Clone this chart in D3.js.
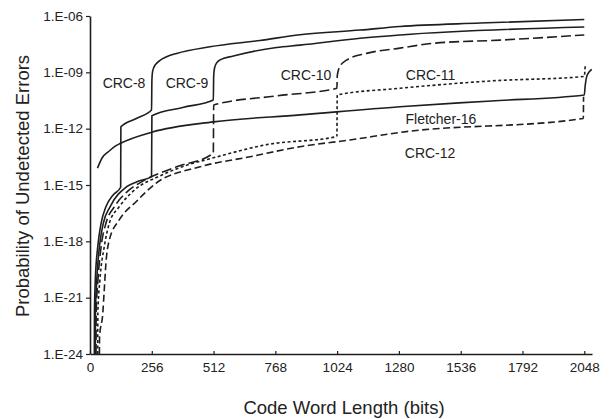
<!DOCTYPE html>
<html>
<head>
<meta charset="utf-8">
<script src="https://cdn.jsdelivr.net/npm/d3@7"></script>
<style>
  html, body { margin: 0; padding: 0; background: #fff; }
  svg { display: block; }
  text { font-family: "Liberation Sans", Arial, sans-serif; fill: #222; }
</style>
</head>
<body>
<div id="chart"></div>
<script>
// ---- Data (code word length in bits, probability of undetected errors) ----
const xTicks = [0, 256, 512, 768, 1024, 1280, 1536, 1792, 2048];
const yTicks = [1e-24, 1e-21, 1e-18, 1e-15, 1e-12, 1e-9, 1e-6];
const yTickLabels = ["1.E-24", "1.E-21", "1.E-18", "1.E-15", "1.E-12", "1.E-09", "1.E-06"];

const crc8Bits = [18, 18.5, 22, 32, 46, 66, 96, 127, 128, 192, 255, 256.5, 259, 265, 278, 290, 315, 359, 497, 704, 870, 1119, 1284, 1616, 2048];
const crc8Pud  = [1e-24, 1.48e-22, 8.7e-21, 5.1e-19, 9.1e-18, 6.9e-17, 2.95e-16, 7.6e-16, 1.26e-12, 3.5e-12, 9.8e-12, 3.9e-10, 1.05e-9, 1.9e-9, 3.2e-9, 4.3e-9, 6.5e-9, 1.02e-8, 2.3e-8, 5.0e-8, 1.0e-7, 1.78e-7, 2.75e-7, 4.2e-7, 6.5e-7];

const crc9Bits = [22, 22.5, 28, 39, 55, 83, 152, 200, 255, 256.5, 384, 511, 512.5, 516, 525, 539, 594, 773, 870, 1119, 1284, 2048];
const crc9Pud  = [1e-24, 1.48e-22, 8.7e-21, 5.1e-19, 9.1e-18, 6.9e-17, 8.1e-16, 1.58e-15, 2.8e-15, 4.9e-12, 1.35e-11, 3.4e-11, 6.3e-10, 1.7e-9, 3.2e-9, 4.6e-9, 7.4e-9, 2.1e-8, 2.8e-8, 6.5e-8, 9.8e-8, 2.6e-7];

const crc10Bits = [25, 25.5, 33, 46, 66, 101, 159, 221, 359, 511, 512.5, 768, 1023, 1024.5, 1030, 1036, 1063, 1146, 1284, 1421, 1699, 2048];
const crc10Pud  = [1e-24, 1.48e-22, 8.7e-21, 5.1e-19, 9.1e-18, 6.9e-17, 5.0e-16, 1.66e-15, 9.3e-15, 4.9e-14, 1.82e-11, 5.5e-11, 1.41e-10, 6.3e-10, 1.41e-9, 2.1e-9, 4.5e-9, 1.02e-8, 1.95e-8, 3.5e-8, 5.2e-8, 9.8e-8];

const crc11Bits = [32, 32.5, 41, 59, 80, 121, 173, 300, 400, 511, 732, 1023, 1024.5, 1284, 1664, 2048, 2052];
const crc11Pud  = [1e-24, 1.48e-22, 8.7e-21, 5.1e-19, 9.1e-18, 6.9e-17, 4.0e-16, 3.5e-15, 1.12e-14, 2.8e-14, 1.41e-13, 3.8e-13, 6.2e-11, 1.41e-10, 3.5e-10, 6.0e-10, 2.5e-9];

const crc12Bits = [39, 39.5, 53, 59, 66, 80, 121, 191, 273, 456, 663, 870, 1077, 1284, 2044, 2045];
const crc12Pud  = [1e-24, 7.9e-24, 1.48e-22, 2.5e-21, 6.8e-20, 1.17e-18, 1.38e-17, 1.29e-16, 1.23e-15, 9.3e-15, 3.2e-14, 1.1e-13, 2.5e-13, 6.3e-13, 3.5e-12, 5.0e-11];

const fletcherBits = [31, 50, 76, 99, 127, 256, 511, 870, 1284, 1664, 2048, 2052, 2058, 2069, 2079];
const fletcherPud  = [7.9e-15, 2.75e-14, 5.9e-14, 1.05e-13, 1.66e-13, 6.5e-13, 2.3e-12, 5.4e-12, 1.48e-11, 3.0e-11, 6.2e-11, 2.1e-10, 5.9e-10, 1.07e-9, 1.45e-9];

const seriesNames = ["CRC-8", "CRC-9", "CRC-10", "CRC-11", "CRC-12", "Fletcher-16"];
const seriesBits  = [crc8Bits, crc9Bits, crc10Bits, crc11Bits, crc12Bits, fletcherBits];
const seriesPud   = [crc8Pud, crc9Pud, crc10Pud, crc11Pud, crc12Pud, fletcherPud];
const seriesDash  = [null, null, "10,4", "3,2.5", "7,3.5", null];

// label anchor positions in data space
const labelBits = [141, 402, 895, 1411, 1409, 1454];
const labelPud  = [1.45e-10, 1.45e-10, 3.9e-10, 3.9e-10, 2.75e-14, 1.78e-12];

// ---- Chart ----
const W = 613, H = 419;
const svg = d3.select("#chart").append("svg").attr("width", W).attr("height", H);

const x = d3.scaleLinear().domain([0, 2080]).range([90, 592]);
const y = d3.scaleLog().domain([1e-24, 1e-6]).range([354, 16]);

const ink = "#1e1e1e";

// X axis
const xAxis = d3.axisBottom(x).tickValues(xTicks).tickFormat(d3.format("d"))
  .tickSizeInner(-3).tickSizeOuter(0).tickPadding(8);
const gx = svg.append("g").attr("transform", "translate(0,354)").call(xAxis);
gx.select(".domain").attr("stroke", ink).attr("stroke-width", 1.6);
gx.selectAll(".tick line").attr("stroke", ink).attr("stroke-width", 1.2);
gx.selectAll(".tick text").attr("font-size", 13.5).attr("fill", "#222")
  .attr("font-family", "Liberation Sans, Arial, sans-serif");

// Y axis
const yAxis = d3.axisLeft(y).tickValues(yTicks).tickFormat((d, i) => yTickLabels[i])
  .tickSizeInner(4).tickSizeOuter(0).tickPadding(3);
const gy = svg.append("g").attr("transform", "translate(90,0)").call(yAxis);
gy.select(".domain").attr("stroke", ink).attr("stroke-width", 1.6);
gy.selectAll(".tick line").attr("stroke", ink).attr("stroke-width", 1.2);
gy.selectAll(".tick text").attr("font-size", 13.5).attr("fill", "#222")
  .attr("font-family", "Liberation Sans, Arial, sans-serif");

// Titles
svg.append("text").attr("x", 344).attr("y", 414).attr("text-anchor", "middle")
  .attr("font-size", 18.5).text("Code Word Length (bits)");
svg.append("text").attr("transform", "translate(28.5,186) rotate(-90)").attr("text-anchor", "middle")
  .attr("font-size", 18.5).text("Probability of Undetected Errors");

// Lines
const line = d3.line().x(d => x(d[0])).y(d => y(d[1])).curve(d3.curveMonotoneX);
seriesNames.forEach((name, i) => {
  const pts = seriesBits[i].map((b, j) => [b, seriesPud[i][j]]);
  svg.append("path").datum(pts)
    .attr("d", line)
    .attr("fill", "none")
    .attr("stroke", ink)
    .attr("stroke-width", 1.6)
    .attr("stroke-dasharray", seriesDash[i])
    .attr("stroke-linejoin", "round");
});

// Labels
seriesNames.forEach((name, i) => {
  svg.append("text").attr("x", x(labelBits[i])).attr("y", y(labelPud[i]))
    .attr("text-anchor", "middle").attr("font-size", 14).text(name);
});
</script>
</body>
</html>
